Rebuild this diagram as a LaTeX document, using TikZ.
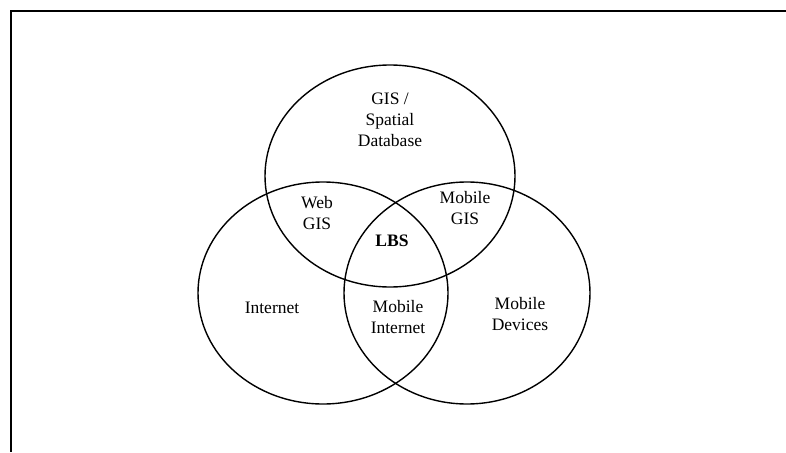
\documentclass[tikz,border=0pt]{standalone}
\usepackage{fontspec}
\setmainfont{Liberation Serif}
\usetikzlibrary{shapes.geometric}
\begin{document}
\begin{tikzpicture}[x=1pt,y=-1pt,
  setcircle/.style={draw, ellipse, line width=1.4pt, inner sep=0pt,
    minimum width=250pt, minimum height=222pt},
  label/.style={align=center, inner sep=0pt, font=\fontsize{17.5}{21}\selectfont}]
  \useasboundingbox (0,0) rectangle (786,452);
  % open frame: top and left edges
  \coordinate (ftr) at (786,11);
  \coordinate (ftl) at (11,11);
  \coordinate (fbl) at (11,452);
  \draw[line width=2pt] (ftr) -- (ftl) -- (fbl);
  % the three sets
  \node[setcircle] (gis) at (390,176) {};
  \node[setcircle] (net) at (323,293) {};
  \node[setcircle, minimum width=246pt] (dev) at (467,293) {};
  % labels
  \node[label] (lgis) at (390,120) {GIS /\\Spatial\\Database};
  \node[label] (lweb) at (317,213) {Web\\GIS};
  \node[label] (lmgis) at (465,208) {Mobile\\GIS};
  \node[label, font=\fontsize{17.5}{21}\selectfont\bfseries] (llbs) at (392,241) {LBS};
  \node[label] (lnet) at (272,308) {Internet};
  \node[label] (lmnet) at (398,317) {Mobile\\Internet};
  \node[label] (ldev) at (520,314) {Mobile\\Devices};
\end{tikzpicture}
\end{document}
